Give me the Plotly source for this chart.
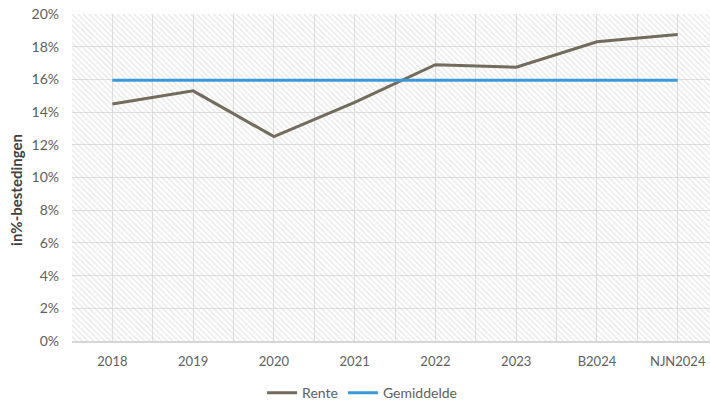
import plotly.graph_objects as go

categories = ["2018", "2019", "2020", "2021", "2022", "2023", "B2024", "NJN2024"]
rente = [14.5, 15.3, 12.5, 14.6, 16.9, 16.75, 18.3, 18.75]
gemiddelde = [15.95, 15.95, 15.95, 15.95, 15.95, 15.95, 15.95, 15.95]
y_ticks = [0, 2, 4, 6, 8, 10, 12, 14, 16, 18, 20]
y_tick_labels = [f"{v}%" for v in y_ticks]
Y_MAX = y_ticks[-1]
background = [Y_MAX] * len(categories)

FONT = "Lato"
TXT = "#606060"
GRID = "#e0e0e0"

fig = go.Figure()

# hatched plot-area background
fig.add_trace(go.Bar(
    x=categories, y=background, xaxis="x", yaxis="y",
    width=1, showlegend=False, hoverinfo="skip",
    marker=dict(color="rgba(0,0,0,0)", line=dict(width=0),
                pattern=dict(shape="\\", fgcolor="#cccccc", bgcolor="rgba(0,0,0,0)",
                             size=4, solidity=0.3)),
))

fig.add_trace(go.Scatter(
    x=categories, y=rente, name="Rente", mode="lines", xaxis="x2", yaxis="y",
    line=dict(color="#736b5c", width=3),
))
fig.add_trace(go.Scatter(
    x=categories, y=gemiddelde, name="Gemiddelde", mode="lines", xaxis="x2", yaxis="y",
    line=dict(color="#3a9ad9", width=3),
))

xr = [-0.5, 7.4]
fig.update_layout(
    width=710, height=402,
    margin=dict(l=72, r=0, t=14, b=61, autoexpand=False),
    paper_bgcolor="white", plot_bgcolor="white",
    bargap=0,
    font=dict(family=FONT, color=TXT, size=14),
    xaxis=dict(type="category", categoryorder="array", categoryarray=categories,
               range=xr, tickson="boundaries", showgrid=True, gridcolor=GRID, gridwidth=1,
               showline=True, linecolor="#d6d6d6", linewidth=1.5, ticks="",
               automargin=False, ticklabeloverflow="allow",
               ticklabelstandoff=8, tickfont=dict(family=FONT, size=13, color=TXT)),
    xaxis2=dict(type="category", categoryorder="array", categoryarray=categories,
                range=xr, overlaying="x", showgrid=True, gridcolor=GRID, gridwidth=1,
                showticklabels=False, ticks="", showline=False, zeroline=False,
                automargin=False),
    yaxis=dict(range=[0, Y_MAX], tickvals=y_ticks, ticktext=y_tick_labels,
               showgrid=True, gridcolor=GRID, gridwidth=1, zeroline=False,
               ticks="", ticklabelstandoff=12, automargin=False,
               ticklabeloverflow="allow",
               tickfont=dict(family=FONT, size=14, color=TXT)),
    legend=dict(orientation="h", xref="container", yref="container",
                x=0.51, xanchor="center", y=0.022, yanchor="middle",
                font=dict(family=FONT, size=14, color=TXT), itemwidth=30,
                bgcolor="rgba(0,0,0,0)"),
    annotations=[dict(text="<b>in%-bestedingen</b>", xref="paper", yref="paper",
                      x=-0.0878, y=0.462, textangle=-90, showarrow=False,
                      xanchor="center", yanchor="middle",
                      font=dict(family=FONT, size=15, color="#404040"))],
)

# remove the browser's default 8px body margin so the 710x402 figure fills the window
fig.write_html("out.html", config={"displayModeBar": False},
               post_script="document.body.style.margin='0px';")
